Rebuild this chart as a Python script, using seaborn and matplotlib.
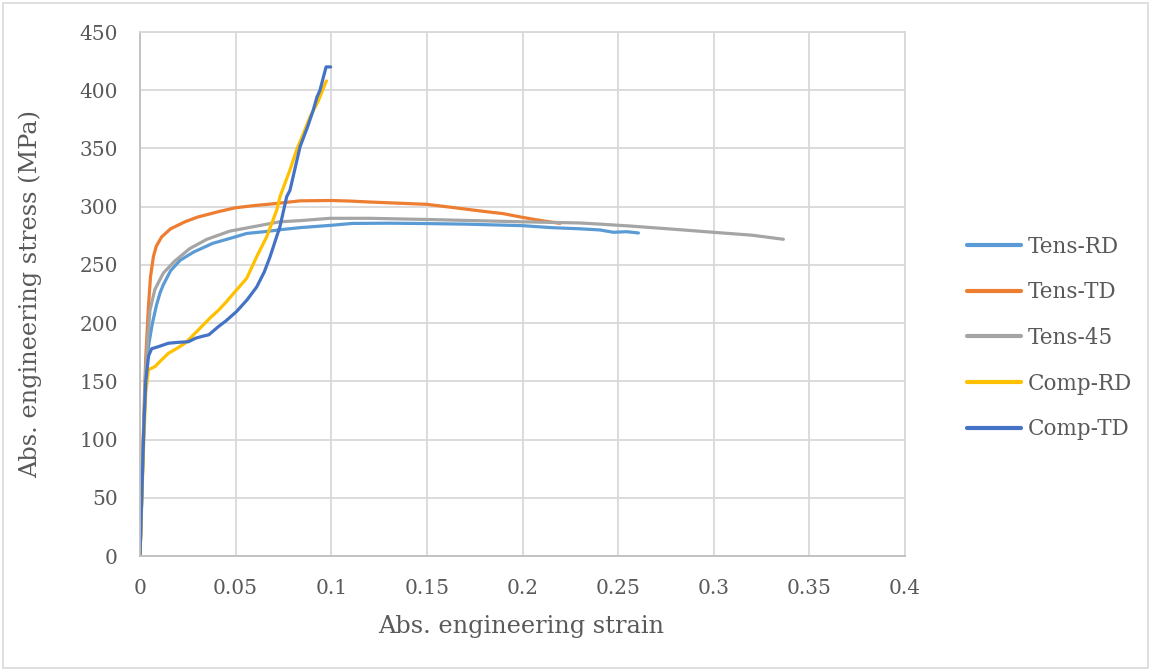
import numpy as np
import pandas as pd
import seaborn as sns
import matplotlib.pyplot as plt
from matplotlib.patches import Rectangle

# Stress-strain curves (absolute engineering strain, absolute engineering stress in MPa)
tens_rd_strain = [0.0, 0.001, 0.002, 0.003, 0.0044, 0.0065, 0.0087, 0.0105, 0.0122, 0.016, 0.021,
                  0.028, 0.038, 0.0497, 0.0558, 0.065, 0.075, 0.0837, 0.1, 0.111, 0.13, 0.15,
                  0.17, 0.2, 0.215, 0.23, 0.2405, 0.2475, 0.2545, 0.2606]
tens_rd_stress = [0.0, 55, 110, 150, 180, 200, 216, 226, 233, 245, 254, 261, 268.5, 274, 277,
                  278.5, 280.5, 282, 284, 285.6, 285.8, 285.5, 285, 283.7, 282, 281, 280, 278,
                  278.5, 277.4]

tens_td_strain = [0.0, 0.001, 0.002, 0.003, 0.0044, 0.0055, 0.007, 0.0085, 0.0113, 0.016, 0.0235,
                  0.03, 0.041, 0.0497, 0.06, 0.07, 0.0837, 0.1, 0.11, 0.12, 0.135, 0.15, 0.165,
                  0.181, 0.19, 0.2, 0.21, 0.2196]
tens_td_stress = [0.0, 60, 120, 170, 214, 240, 257, 266, 274, 281, 287, 291, 295.7, 299, 301,
                  302.5, 305, 305.3, 304.8, 304, 303, 302, 299, 295.7, 294, 290.8, 288, 285.7]

tens_45_strain = [0.0, 0.001, 0.002, 0.003, 0.0042, 0.0052, 0.0078, 0.0122, 0.018, 0.026, 0.035,
                  0.047, 0.06, 0.073, 0.0837, 0.0993, 0.12, 0.15, 0.2, 0.23, 0.2405, 0.256,
                  0.28, 0.2997, 0.32, 0.3364]
tens_45_stress = [0.0, 58, 115, 160, 190, 211, 229, 243, 253, 264, 272, 279, 283, 287, 288, 290,
                  290, 289, 287, 286, 285, 283.4, 280.5, 278, 275.5, 272]

comp_rd_strain = [0.0, 0.001, 0.002, 0.003, 0.0044, 0.0078, 0.011, 0.0148, 0.019, 0.0235, 0.028,
                  0.0322, 0.037, 0.041, 0.045, 0.0497, 0.0558, 0.061, 0.0662, 0.0715, 0.0732,
                  0.0784, 0.0819, 0.0855, 0.0889, 0.093, 0.0967, 0.0975]
comp_rd_stress = [0.0, 50, 100, 140, 160, 162.6, 168, 174, 178, 182.7, 190, 197, 205, 211, 218,
                  227, 238.5, 257, 274, 297, 308.6, 331.5, 348.7, 363, 377, 390, 405, 408]

comp_td_strain = [0.0, 0.001, 0.002, 0.003, 0.0045, 0.0061, 0.01, 0.0148, 0.02, 0.0253, 0.029,
                  0.0322, 0.036, 0.041, 0.045, 0.0505, 0.056, 0.061, 0.065, 0.068, 0.0732,
                  0.0767, 0.0784, 0.0837, 0.0875, 0.0906, 0.0925, 0.0941, 0.0973, 0.0997]
comp_td_stress = [0.0, 55, 110, 150, 172, 178, 180, 182.7, 183.5, 184, 187, 188.5, 190, 197,
                  202, 210, 220, 231, 244, 257, 283, 308.6, 314, 351.5, 368, 383, 394, 400,
                  420, 420]

series_names = ["Tens-RD", "Tens-TD", "Tens-45", "Comp-RD", "Comp-TD"]
series_colors = ["#5B9BD5", "#ED7D31", "#A5A5A5", "#FFC000", "#4472C4"]
series_strain = [tens_rd_strain, tens_td_strain, tens_45_strain, comp_rd_strain, comp_td_strain]
series_stress = [tens_rd_stress, tens_td_stress, tens_45_stress, comp_rd_stress, comp_td_stress]

x_ticks = [0, 0.05, 0.1, 0.15, 0.2, 0.25, 0.3, 0.35, 0.4]
x_tick_labels = ["0", "0.05", "0.1", "0.15", "0.2", "0.25", "0.3", "0.35", "0.4"]
y_ticks = [0, 50, 100, 150, 200, 250, 300, 350, 400, 450]

frames = []
for name, xs, ys in zip(series_names, series_strain, series_stress):
    frames.append(pd.DataFrame({"strain": xs, "stress": ys, "series": name}))
df = pd.concat(frames, ignore_index=True)

sns.set_theme(style="white")
plt.rcParams["font.family"] = ["DejaVu Serif"]

text_color = "#595959"
grid_color = "#D9D9D9"

fig = plt.figure(figsize=(11.51, 6.71), dpi=100)
ax = fig.add_axes([140 / 1151, 1 - 556 / 671, 765 / 1151, 524 / 671])

sns.lineplot(data=df, x="strain", y="stress", hue="series", hue_order=series_names,
             palette=dict(zip(series_names, series_colors)), sort=False,
             estimator=None, linewidth=2.3, ax=ax, legend=True)

ax.set_xlim(0, 0.4)
ax.set_ylim(0, 450)
ax.set_xticks(x_ticks)
ax.set_xticklabels(x_tick_labels)
ax.set_yticks(y_ticks)
ax.grid(True, color=grid_color, linewidth=1.3)
ax.set_axisbelow(True)
for side, sp in ax.spines.items():
    sp.set_color(grid_color)
    sp.set_linewidth(1.3)
ax.spines["left"].set_color("#BFBFBF")
ax.spines["bottom"].set_color("#BFBFBF")
ax.tick_params(axis="both", length=0, labelsize=14.5, colors=text_color)
ax.tick_params(axis="y", pad=16)
ax.tick_params(axis="x", pad=16.5)

ax.set_xlabel("Abs. engineering strain", fontsize=17.3, color=text_color)
ax.set_ylabel("Abs. engineering stress (MPa)", fontsize=17.3, color=text_color)
ax.xaxis.set_label_coords((521 - 140) / 765, -(627 - 556) / 524)
ax.yaxis.set_label_coords(-(140 - 30) / 765, (556 - 294) / 524)
ax.xaxis.label.set_verticalalignment("center")
ax.yaxis.label.set_verticalalignment("center")

handles, labels = ax.get_legend_handles_labels()
ax.get_legend().remove()
for h in handles:
    h.set_linewidth(3)
leg = fig.legend(handles, labels, loc="center left", bbox_to_anchor=(948 / 1151, 1 - 338 / 671),
                 frameon=False, fontsize=15.5, handlelength=2.5, handletextpad=0.3,
                 labelspacing=1.1, labelcolor=text_color)

# Thin frame around the whole chart area
fig.patches.append(Rectangle((3 / 1151, 3 / 671), 1145 / 1151, 665 / 671,
                             transform=fig.transFigure, fill=False,
                             edgecolor=grid_color, linewidth=1.2))

fig.savefig("out.png", dpi=100, facecolor="white")
